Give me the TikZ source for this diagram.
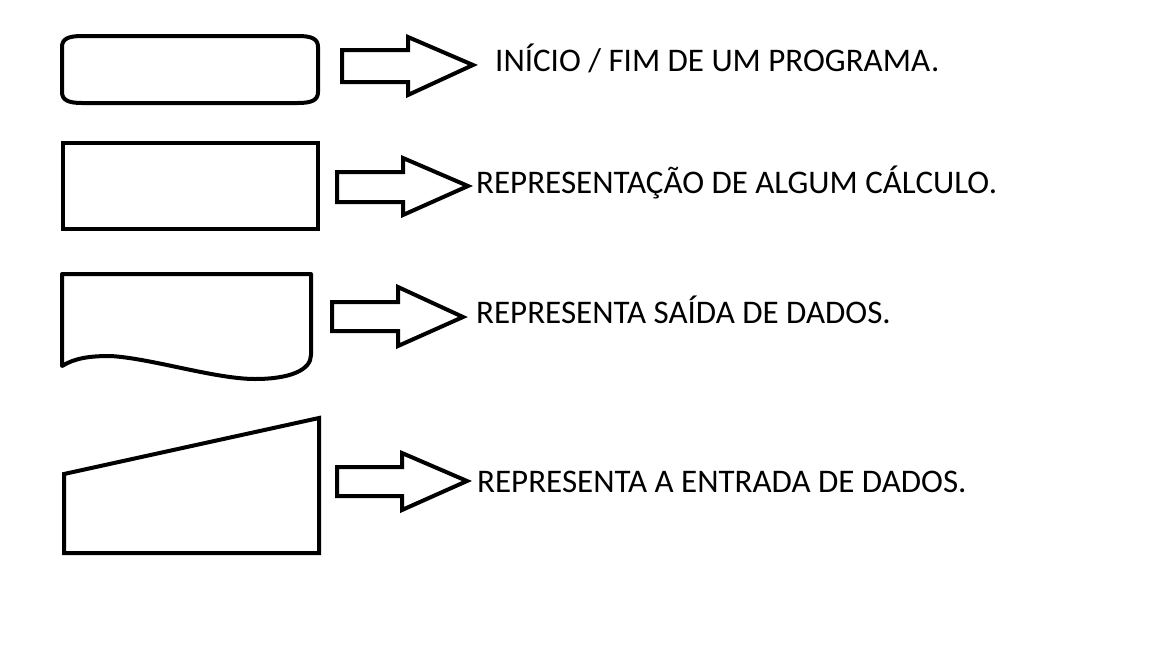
\documentclass[tikz,border=0pt]{standalone}
\usepackage{fontspec}
\setmainfont{Carlito}
\begin{document}
\begin{tikzpicture}[x=1pt,y=-1pt,
  shapeline/.style={draw=black,line width=4pt,line join=round},
  blockarrow/.style={draw=black,line width=4pt,line join=miter},
  lbl/.style={anchor=base west,inner sep=0pt,font=\fontsize{33}{38}\selectfont}]
\fill[white] (0,0) rectangle (1152,648);
\useasboundingbox (0,0) rectangle (1152,648);
% terminal
\draw[shapeline] (82,36) -- (298,36) .. controls (312,36) and (318,39) .. (318,47) -- (318,92)
  .. controls (318,100) and (312,103) .. (298,103) -- (82,103)
  .. controls (68,103) and (62,100) .. (62,92) -- (62,47)
  .. controls (62,39) and (68,36) .. (82,36) -- cycle;
% process
\draw[shapeline,line join=miter] (63,143) rectangle (318,229);
% document
\draw[shapeline] (62,366) .. controls (75,358) and (90,356) .. (110,356)
  .. controls (150,358) and (215,379) .. (255,379)
  .. controls (290,379) and (311,370) .. (311,355) -- (311,274) -- (62,274) -- cycle;
% manual input
\draw[shapeline,line join=miter] (64,474) -- (319,418) -- (319,553) -- (64,553) -- cycle;
% block arrows
\draw[blockarrow] (342,50) -- (408,50) -- (408,37) -- (473,65) -- (408,95) -- (408,82) -- (342,82) -- cycle;
\draw[blockarrow] (337,172) -- (403,172) -- (403,158) -- (468,186) -- (403,215) -- (403,202) -- (337,202) -- cycle;
\draw[blockarrow] (332,302) -- (398,302) -- (398,287) -- (463,317) -- (398,346) -- (398,331) -- (332,331) -- cycle;
\draw[blockarrow] (337,467) -- (402,467) -- (402,453) -- (467,481) -- (402,510) -- (402,496) -- (337,496) -- cycle;
% labels
\node[lbl] (t1) at (495,71) {INÍCIO / FIM DE UM PROGRAMA\kern1pt.};
\node[lbl] (t2) at (476,193) {REPRESENTAÇÃO DE ALGUM CÁLCULO.};
\node[lbl] (t3) at (476,323) {REPRESENTA SAÍDA DE DADOS.};
\node[lbl] (t4) at (477,492) {REPRESENTA A ENTRADA DE DADOS.};
\end{tikzpicture}
\end{document}
